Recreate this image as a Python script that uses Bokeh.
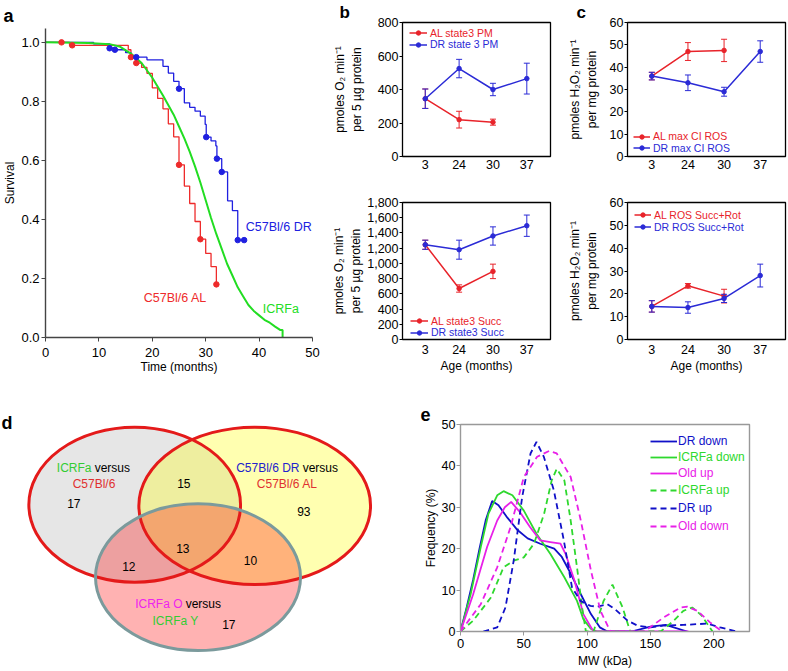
from bokeh.plotting import figure
from bokeh.layouts import row, column
from bokeh.models import (Range1d, FixedTicker, NumeralTickFormatter, PrintfTickFormatter,
                          Legend, LegendItem, Label)
from bokeh.core.properties import value
from bokeh.embed import file_html
from bokeh.resources import INLINE

FONT = "Liberation Sans"

# ---------------- Panel a: survival ----------------
al_t = [0, 4.5, 15.5, 16, 17, 18, 19, 20, 21, 22, 23, 24, 25, 26, 27, 28, 29, 30, 31, 32, 32.2]
al_s = [1.0, 0.99, 0.975, 0.95, 0.93, 0.915, 0.895, 0.846, 0.81, 0.775, 0.724, 0.68, 0.585,
        0.513, 0.454, 0.393, 0.333, 0.285, 0.24, 0.18, 0.18]
al_cens_t = [3, 5, 16, 17, 25, 29, 32]
al_cens_s = [1.0, 0.99, 0.95, 0.93, 0.585, 0.333, 0.18]

dr_t = [0, 9, 12, 13, 15, 16, 17, 19, 22, 23, 24, 25, 26, 27, 28, 29, 29.9, 30.1, 31, 31.9,
        32.1, 33, 34.1, 35, 36, 37.2]
dr_s = [1.0, 0.995, 0.98, 0.975, 0.965, 0.955, 0.95, 0.941, 0.919, 0.896, 0.868, 0.843, 0.795,
        0.78, 0.767, 0.75, 0.722, 0.679, 0.666, 0.649, 0.606, 0.561, 0.463, 0.43, 0.33, 0.33]
dr_cens_t = [12, 13, 17, 25, 30.1, 32.1, 33, 36, 37.2]
dr_cens_s = [0.98, 0.975, 0.95, 0.843, 0.679, 0.606, 0.561, 0.33, 0.33]

icrfa_t = [0, 8, 12, 14, 16, 18, 20, 22, 24, 25, 26, 27, 28, 29, 30, 31, 32, 33, 34, 35, 36,
           37, 38, 39, 40, 41, 42, 43, 44, 44.4, 44.4]
icrfa_s = [1.0, 0.998, 0.994, 0.985, 0.962, 0.93, 0.88, 0.82, 0.755, 0.715, 0.675, 0.63, 0.58,
           0.525, 0.465, 0.405, 0.35, 0.3, 0.25, 0.21, 0.17, 0.14, 0.11, 0.09, 0.075, 0.06,
           0.05, 0.037, 0.025, 0.025, 0.0]

# ---------------- Panels b, c ----------------
ages = ["3", "24", "30", "37"]
al_pm = [345, 220, 205]
al_pm_err = [58, 50, 18]
dr_pm = [345, 525, 400, 465]
dr_pm_err = [58, 55, 37, 92]

al_succ = [1245, 670, 895]
al_succ_err = [60, 48, 95]
dr_succ = [1245, 1180, 1360, 1495]
dr_succ_err = [60, 125, 120, 140]

al_ci = [36, 47, 47.5]
al_ci_err = [1.7, 4, 5]
dr_ci = [36, 33, 29, 47]
dr_ci_err = [1.7, 3.5, 2, 4.8]

al_rot = [14.5, 23.5, 19]
al_rot_err = [2.5, 1, 3]
dr_rot = [14.5, 14, 18, 28]
dr_rot_err = [2.5, 2.5, 1.8, 5]

# ---------------- Panel d: Venn ----------------
venn_counts = ["17", "15", "93", "13", "12", "10", "17"]

# ---------------- Panel e: MW distributions ----------------
dr_down_x = [0, 5, 10, 15, 20, 25, 30, 37, 45, 53, 63, 74, 80, 87, 95, 103, 110, 116, 135, 150, 162, 179]
dr_down_y = [0, 6, 12.5, 20, 27, 31.5, 30.5, 27.5, 24.5, 22.5, 21.2, 20, 18, 14, 9, 4.2, 1, 0, 0, 1.2, 1.6, 0]
icrfa_down_x = [0, 8, 16, 22, 29, 34, 41, 50, 60, 71, 82, 92, 97, 103, 108, 130]
icrfa_down_y = [0, 9, 20.4, 28.4, 32.9, 33.9, 32.9, 29.2, 23.6, 18.7, 13.1, 7.4, 3, 0.6, 0, 0]
old_up_x = [0, 10, 21, 29, 35, 40, 47, 55, 63, 71, 79, 83, 90, 97, 105, 180]
old_up_y = [0, 9, 20.4, 26.8, 30, 31.3, 28.8, 25.2, 22, 21.6, 21.2, 18.7, 12.3, 4.2, 0, 0]
icrfa_up_x = [0, 10, 24, 34, 42, 50, 58, 66, 72, 76, 82, 87, 92, 96, 99, 105, 113, 120, 128, 134,
              158, 168, 176, 183, 190, 199]
icrfa_up_y = [0, 2.6, 8.2, 15.5, 17.1, 17.9, 21.2, 28.4, 36.5, 39.3, 36.5, 26.8, 15.5, 5.8, 0, 0,
              7.4, 11.3, 5.8, 0, 0, 2.5, 5, 5.8, 4, 0]
dr_up_x = [18, 29, 35.5, 42, 48.7, 55.3, 60, 65.8, 73.7, 81.6, 88, 94.7, 102.6, 108, 116, 122, 132,
           140, 150, 160, 176, 195, 205, 218]
dr_up_y = [0, 1, 5.8, 17.1, 32.5, 43, 45.8, 42.2, 34.1, 22, 10.7, 7.4, 6.2, 6, 6.6, 5.4, 2.6, 1.4,
           1, 1.4, 1.6, 1.9, 1, 0]
old_down_x = [0, 16, 29, 39.5, 50, 60.5, 70, 76, 87, 95, 103, 110.5, 118.4, 145, 160.5, 173.7, 179,
              187, 197, 206.6]
old_down_y = [0, 6.6, 15.5, 25.2, 37.3, 42.2, 43.6, 43, 37.3, 26.8, 14.7, 5, 0, 0, 3.4, 5.8, 6, 5,
              2.2, 0]

RED_A, BLUE_A, GREEN_A = "#ee2b2b", "#2020e0", "#22dd22"
RED, BLUE = "#e8232a", "#2b2bd6"
E_BLUE, E_GREEN, E_MAG = "#1010c8", "#2ed82e", "#e820e8"


def base_fig(w, h, left, right, top, bottom, xr, yr, **kw):
    p = figure(width=w, height=h, x_range=xr, y_range=yr, output_backend="svg",
               toolbar_location=None, min_border_left=left, min_border_right=right,
               min_border_top=top, min_border_bottom=bottom, **kw)
    p.xgrid.visible = False
    p.ygrid.visible = False
    return p


def style_axis(ax, fs, tick_out, standoff, lab_standoff, line_color="black", tick_color="black"):
    ax.major_label_text_font = FONT
    ax.major_label_text_font_size = fs
    ax.major_label_text_color = "black"
    ax.major_tick_out = tick_out
    ax.major_tick_in = 0
    ax.minor_tick_out = 0
    ax.minor_tick_in = 0
    ax.major_label_standoff = int(standoff)
    ax.axis_label_standoff = int(lab_standoff)
    ax.axis_label_text_font = FONT
    ax.axis_label_text_font_size = "12px"
    ax.axis_label_text_font_style = "normal"
    ax.axis_label_text_color = "black"
    ax.axis_line_color = line_color
    ax.major_tick_line_color = tick_color


def panel_title(p, text, offset, standoff, size="18px"):
    p.title.text = text
    p.title.align = "left"
    p.title.offset = offset
    p.title.standoff = standoff
    p.title.text_font = FONT
    p.title.text_font_size = size
    p.title.text_font_style = "bold"
    p.title.text_color = "black"


def legend_entry(p, label, renderers, color, x, y, fs, gw, standoff, h):
    lg = Legend(items=[LegendItem(label=label, renderers=renderers)], location=(x, y),
                padding=0, margin=0, spacing=0, border_line_color=None,
                background_fill_alpha=0, label_text_color=color, label_text_font=FONT,
                label_text_font_size=fs, glyph_width=gw, glyph_height=h, label_height=h,
                label_standoff=standoff)
    p.add_layout(lg, "center")


# ======== Panel a ========
pa = base_fig(329, 380, 45, 17, 27, 43, Range1d(0, 50), Range1d(0, 1.047))
pa.outline_line_color = None
pa.step(al_t, al_s, mode="after", color=RED_A, line_width=1.3)
pa.step(dr_t, dr_s, mode="after", color=BLUE_A, line_width=1.3)
pa.line(icrfa_t, icrfa_s, color=GREEN_A, line_width=2)
pa.scatter(al_cens_t, al_cens_s, size=5.5, color=RED_A)
pa.scatter(dr_cens_t, dr_cens_s, size=5.5, color=BLUE_A)
pa.xaxis.ticker = FixedTicker(ticks=[0, 10, 20, 30, 40, 50])
pa.yaxis.ticker = FixedTicker(ticks=[0, 0.2, 0.4, 0.6, 0.8, 1.0])
pa.yaxis.formatter = PrintfTickFormatter(format="%.1f")
style_axis(pa.xaxis[0], "13px", 4, 6, 0, "#444444", "#444444")
style_axis(pa.yaxis[0], "13px", 4, 2, 1, "#444444", "#444444")
pa.xaxis.axis_line_width = 1.4
pa.yaxis.axis_line_width = 1.4
pa.xaxis.axis_label = "Time (months)"
pa.yaxis.axis_label = "Survival"
for txt, x, y, c in [("C57Bl/6 DR", 37.5, 0.376, BLUE_A), ("C57Bl/6 AL", 18.4, 0.135, RED_A),
                     ("ICRFa", 40.7, 0.095, GREEN_A)]:
    pa.add_layout(Label(x=x, y=y, text=txt, text_color=c, text_font=FONT, text_font_size="12.5px",
                        text_baseline="middle", text_align="left"))
panel_title(pa, "a", -42, 6)

# ======== Panels b & c ========
idx = list(range(len(ages)))


def series(p, ys, errs, color):
    xs = idx[:len(ys)]
    lo = [y - e for y, e in zip(ys, errs)]
    hi = [y + e for y, e in zip(ys, errs)]
    p.segment(xs, lo, xs, hi, color=color, line_width=1)
    p.scatter(xs, lo, marker="dash", size=6, color=color, line_width=1)
    p.scatter(xs, hi, marker="dash", size=6, color=color, line_width=1)
    ln = p.line(xs, ys, color=color, line_width=1.5)
    sc = p.scatter(xs, ys, size=4.5, color=color)
    return [ln, sc]


def box_fig(w, h, left, right, top, bottom, ymax, step, ylab_standoff, xstandoff, ylabel,
            xlabel=None, comma=False):
    p = base_fig(w, h, left, right, top, bottom, Range1d(-0.673, 3.70), Range1d(0, ymax))
    p.outline_line_color = "black"
    p.outline_line_width = 1.3
    p.xaxis.ticker = FixedTicker(ticks=idx)
    p.xaxis.major_label_overrides = {i: a for i, a in zip(idx, ages)}
    p.yaxis.ticker = FixedTicker(ticks=list(range(0, ymax + 1, step)))
    if comma:
        p.yaxis.formatter = NumeralTickFormatter(format="0,0")
    style_axis(p.yaxis[0], "12.5px", 3, 1, ylab_standoff, None)
    style_axis(p.xaxis[0], "12.5px", 0, xstandoff, 2, None)
    p.yaxis.axis_label = ylabel
    if xlabel:
        p.xaxis.axis_label = xlabel
    return p


o2_label = "pmoles O\u2082 min\u207b\u00b9\nper 5 \u00b5g protein"
h2o2_label = "pmoles H\u2082O\u2082 min\u207b\u00b9\nper mg protein"

pb1 = box_fig(235, 185, 71, 14, 21, 29, 800, 200, 11, 3, o2_label)
r_al = series(pb1, al_pm, al_pm_err, RED)
r_dr = series(pb1, dr_pm, dr_pm_err, BLUE)
legend_entry(pb1, "AL state3 PM", r_al, RED, 7, 117.3, "10.5px", 18, 3, 11)
legend_entry(pb1, "DR state 3 PM", r_dr, BLUE, 7, 105.7, "10.5px", 18, 3, 11)
panel_title(pb1, "b", -63, 1, "17px")

pb2 = box_fig(235, 195, 71, 14, 17, 41, 1800, 200, 1, 5, o2_label, "Age (months)", comma=True)
r_al = series(pb2, al_succ, al_succ_err, RED)
r_dr = series(pb2, dr_succ, dr_succ_err, BLUE)
legend_entry(pb2, "AL state3 Succ", r_al, RED, 8, 12.5, "10.5px", 18, 3, 11)
legend_entry(pb2, "DR state3 Succ", r_dr, BLUE, 8, 1, "10.5px", 18, 3, 11)

pc1 = box_fig(224, 185, 62, 3, 21, 29, 60, 10, 8, 3, h2o2_label)
r_al = series(pc1, al_ci, al_ci_err, RED)
r_dr = series(pc1, dr_ci, dr_ci_err, BLUE)
legend_entry(pc1, "AL max CI ROS", r_al, RED, 6, 14, "10.5px", 17, 3, 11)
legend_entry(pc1, "DR max CI ROS", r_dr, BLUE, 6, 2.3, "10.5px", 17, 3, 11)
panel_title(pc1, "c", -51, 1, "17px")

pc2 = box_fig(224, 195, 62, 3, 17, 41, 60, 10, 8, 5, h2o2_label, "Age (months)")
r_al = series(pc2, al_rot, al_rot_err, RED)
r_dr = series(pc2, dr_rot, dr_rot_err, BLUE)
legend_entry(pc2, "AL ROS Succ+Rot", r_al, RED, 7, 118.3, "10.5px", 17, 3, 11)
legend_entry(pc2, "DR ROS Succ+Rot", r_dr, BLUE, 7, 106.3, "10.5px", 17, 3, 11)

# ======== Panel d: Venn ========
pdv = figure(width=416, height=291, x_range=Range1d(0, 416), y_range=Range1d(671, 380),
             output_backend="svg", toolbar_location=None, x_axis_location=None,
             y_axis_location=None, min_border=0)
pdv.xgrid.visible = False
pdv.ygrid.visible = False
pdv.outline_line_color = None
ell_x = [134.2, 254.2, 197.5]
ell_y = [504.2, 505.3, 576.7]
ell_w = [211.7, 231.7, 205]
ell_h = [155, 157.3, 146.7]
pdv.ellipse(ell_x[0], ell_y[0], width=ell_w[0], height=ell_h[0], fill_color="#e6e6e6",
            fill_alpha=1, line_color=None)
pdv.ellipse(ell_x[1], ell_y[1], width=ell_w[1], height=ell_h[1], fill_color="#ffff00",
            fill_alpha=0.31, line_color=None)
pdv.ellipse(ell_x[2], ell_y[2], width=ell_w[2], height=ell_h[2], fill_color="#ff0000",
            fill_alpha=0.3, line_color=None)
pdv.ellipse(ell_x[:2], ell_y[:2], width=ell_w[:2], height=ell_h[:2], fill_color=None,
            line_color="#e41a1a", line_width=3)
pdv.ellipse(ell_x[2], ell_y[2], width=ell_w[2], height=ell_h[2], fill_color=None,
            line_color="#7b9a9c", line_width=3)
count_x = [73.3, 183.3, 303.3, 182.3, 128.3, 250, 228.3]
count_y = [503.3, 483.3, 511, 548.3, 565.7, 560, 624.3]
pdv.text(count_x, count_y, text=venn_counts, text_align="center", text_baseline="middle",
         text_font=value(FONT), text_font_size="12px", text_color="black")
set_txt = ["ICRFa", "versus", "C57Bl/6", "C57Bl/6 DR", "versus", "C57Bl/6 AL",
           "ICRFa O", "versus", "ICRFa Y"]
set_col = ["#33cc33", "black", "#e03030", "#2222cc", "black", "#e03030",
           "#ee22ee", "black", "#33cc33"]
set_x = [91, 94.2, 93.5, 299, 302.2, 286.7, 182, 185.2, 175]
set_y = [467.3, 467.3, 483.3, 467.3, 467.3, 483.3, 603.3, 603.3, 620.7]
set_al = ["right", "left", "center", "right", "left", "center", "right", "left", "center"]
pdv.text(set_x, set_y, text=set_txt, text_color=set_col, text_align=set_al,
         text_baseline="middle", text_font=value(FONT), text_font_size="12px")
pdv.text([1], [422], text=["d"], text_align="left", text_baseline="alphabetic",
         text_font=value(FONT), text_font_size="18px", text_font_style="bold", text_color="black")

# ======== Panel e ========
pe = base_fig(372, 291, 44, 39, 44, 40, Range1d(0, 228.2), Range1d(0, 50))
pe.outline_line_color = "#999999"
pe.outline_line_width = 1.4
pe.xaxis.ticker = FixedTicker(ticks=[0, 50, 100, 150, 200])
pe.yaxis.ticker = FixedTicker(ticks=[0, 10, 20, 30, 40, 50])
style_axis(pe.xaxis[0], "13px", 4, 3, 3, "#999999", "#999999")
style_axis(pe.yaxis[0], "12.5px", 4, 1, 1, "#999999", "#999999")
pe.xaxis.axis_label = "MW (kDa)"
pe.yaxis.axis_label = "Frequency (%)"
curves = [
    ("DR down", dr_down_x, dr_down_y, E_BLUE, "solid"),
    ("ICRFa down", icrfa_down_x, icrfa_down_y, E_GREEN, "solid"),
    ("Old up", old_up_x, old_up_y, E_MAG, "solid"),
    ("ICRFa up", icrfa_up_x, icrfa_up_y, E_GREEN, "6 4"),
    ("DR up", dr_up_x, dr_up_y, E_BLUE, "6 4"),
    ("Old down", old_down_x, old_down_y, E_MAG, "6 4"),
]
leg_y = [183.3, 167.3, 150.7, 134, 115.7, 98.3]
for (name, xs, ys, col, dash), ly in zip(curves, leg_y):
    r = pe.line(xs, ys, color=col, line_width=1.8, line_dash=dash)
    legend_entry(pe, name, [r], col, 190, ly, "12px", 27, 1, 14)
panel_title(pe, "e", -40, 8)

top = row(pa, column(pb1, pb2), column(pc1, pc2))
bottom = row(column(pdv), column(pe))
layout = column(top, bottom)

open("out.html", "w").write(file_html(layout, INLINE))
